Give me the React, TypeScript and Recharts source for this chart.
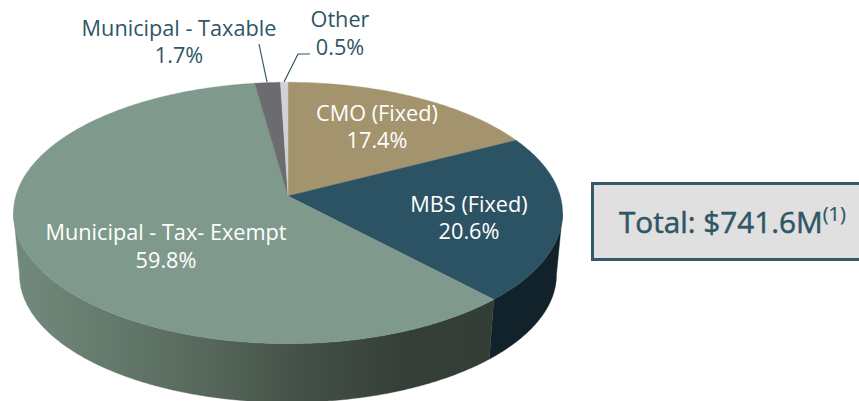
import React from "react";
import { PieChart, Pie } from "recharts";

const categories = ["CMO (Fixed)", "MBS (Fixed)", "Municipal - Tax- Exempt", "Municipal - Taxable", "Other"];
const shares = [17.4, 20.6, 59.8, 1.7, 0.5];
const topColors = ["#a3946e", "#2c5364", "#7f9a8c", "#6b6b70", "#d2d2d2"];
const wallColors = ["#6f6546", "#12222a", "url(#wallGradient)", "#444448", "#999999"];
const totalLabel = "Total: $741.6M";
const totalNote = "(1)";

const chartData = categories.map((name, i) => ({ name, value: shares[i], fill: topColors[i], wall: wallColors[i] }));

const FONT = "'Open Sans', sans-serif";
const TEAL = "#2f5566";
const TILT = 0.1298; // perspective of the disc
const SQUASH = 0.472;
const DEPTH = 62;
const BOTTOM_SCALE = 0.978;
// angles where the tilted disc is widest, only the wall between them shows
const FRONT_RIGHT = (-Math.asin(TILT) * 180) / Math.PI;
const FRONT_LEFT = -180 - FRONT_RIGHT;

// circle point -> tilted disc
const project = (cx: number, cy: number, r: number, deg: number) => {
  const a = (deg * Math.PI) / 180;
  const w = 1 + TILT * Math.sin(a);
  return { x: cx + (r * Math.cos(a)) / w, y: cy - (r * SQUASH * Math.sin(a)) / w };
};

const arcPoints = (cx: number, cy: number, r: number, from: number, to: number) => {
  const steps = Math.max(2, Math.ceil(Math.abs(from - to) * 2));
  const pts = [];
  for (let i = 0; i <= steps; i++) pts.push(project(cx, cy, r, from + ((to - from) * i) / steps));
  return pts;
};

const toPath = (pts: { x: number; y: number }[]) =>
  pts.map((p, i) => `${i ? "L" : "M"}${p.x.toFixed(2)},${p.y.toFixed(2)}`).join(" ") + " Z";

const TopSlice = (props: any) => {
  const { cx, cy, outerRadius, startAngle, endAngle, fill } = props;
  const d = toPath([{ x: cx, y: cy }, ...arcPoints(cx, cy, outerRadius, startAngle, endAngle)]);
  return <path d={d} fill={fill} stroke={fill} strokeWidth={0.4} />;
};

const WallSlice = (props: any) => {
  const { cx, cy, outerRadius, startAngle, endAngle, payload } = props;
  const from = Math.min(startAngle, FRONT_RIGHT);
  const to = Math.max(endAngle, FRONT_LEFT);
  if (from <= to) return null;
  const upper = arcPoints(cx, cy, outerRadius, from, to);
  const lower = arcPoints(cx, cy + DEPTH, outerRadius * BOTTOM_SCALE, from, to).reverse();
  return <path d={toPath([...upper, ...lower])} fill={payload.wall} stroke={payload.wall} strokeWidth={0.4} />;
};

const labelSpots = [
  { x: 377, y1: 121, y2: 148, color: "#ffffff" },
  { x: 469, y1: 212, y2: 239, color: "#ffffff" },
  { x: 166, y1: 240, y2: 268, color: "#ffffff" },
  { x: 179, y1: 36, y2: 63, color: TEAL },
  { x: 340, y1: 27, y2: 55, color: TEAL },
];

const SliceLabel = (props: any) => {
  const spot = labelSpots[props.index];
  return (
    <g>
      <text x={spot.x} y={spot.y1} textAnchor="middle" fill={spot.color} fontFamily={FONT} fontSize={21.7}>
        {props.name}
      </text>
      <text x={spot.x} y={spot.y2} textAnchor="middle" fill={spot.color} fontFamily={FONT} fontSize={21.7}>
        {`${props.value.toFixed(1)}%`}
      </text>
    </g>
  );
};

export default function App() {
  return (
    <div style={{ position: "absolute", left: 0, top: 0, width: 859, height: 401, overflow: "hidden", background: "#fff" }}>
      <PieChart width={859} height={401} margin={{ top: 0, right: 0, bottom: 0, left: 0 }}>
        <defs>
          <linearGradient id="wallGradient" gradientUnits="userSpaceOnUse" x1={13} y1={0} x2={490} y2={0}>
            <stop offset="0%" stopColor="#728a7d" />
            <stop offset="20%" stopColor="#647a6d" />
            <stop offset="42%" stopColor="#55665a" />
            <stop offset="62%" stopColor="#434f46" />
            <stop offset="82%" stopColor="#353f37" />
            <stop offset="100%" stopColor="#333c35" />
          </linearGradient>
        </defs>
        <Pie
          data={chartData}
          dataKey="value"
          nameKey="name"
          cx={288}
          cy={196}
          outerRadius={272.2}
          startAngle={90}
          endAngle={-270}
          stroke="none"
          shape={WallSlice}
          isAnimationActive={false}
        />
        <Pie
          data={chartData}
          dataKey="value"
          nameKey="name"
          cx={288}
          cy={196}
          outerRadius={272.2}
          startAngle={90}
          endAngle={-270}
          stroke="none"
          shape={TopSlice}
          label={SliceLabel}
          labelLine={false}
          isAnimationActive={false}
        />
        <polyline points="259,44 267,82" fill="none" stroke={TEAL} strokeWidth={1.2} />
        <polyline points="284,82 298,54 310,54" fill="none" stroke={TEAL} strokeWidth={1.2} />
      </PieChart>
      <div
        style={{
          position: "absolute", left: 591, top: 182, width: 280, height: 79, boxSizing: "border-box",
          background: "#e0e0e0", border: "3px solid #35596a", color: TEAL, fontFamily: FONT,
          fontSize: 29.7, WebkitTextStroke: "0.5px #2f5566", lineHeight: "74px", paddingLeft: 25, whiteSpace: "nowrap",
        }}
      >
        {totalLabel}
        <span style={{ fontSize: 20, position: "relative", top: -12, WebkitTextStroke: "0.2px #2f5566" }}>{totalNote}</span>
      </div>
    </div>
  );
}
